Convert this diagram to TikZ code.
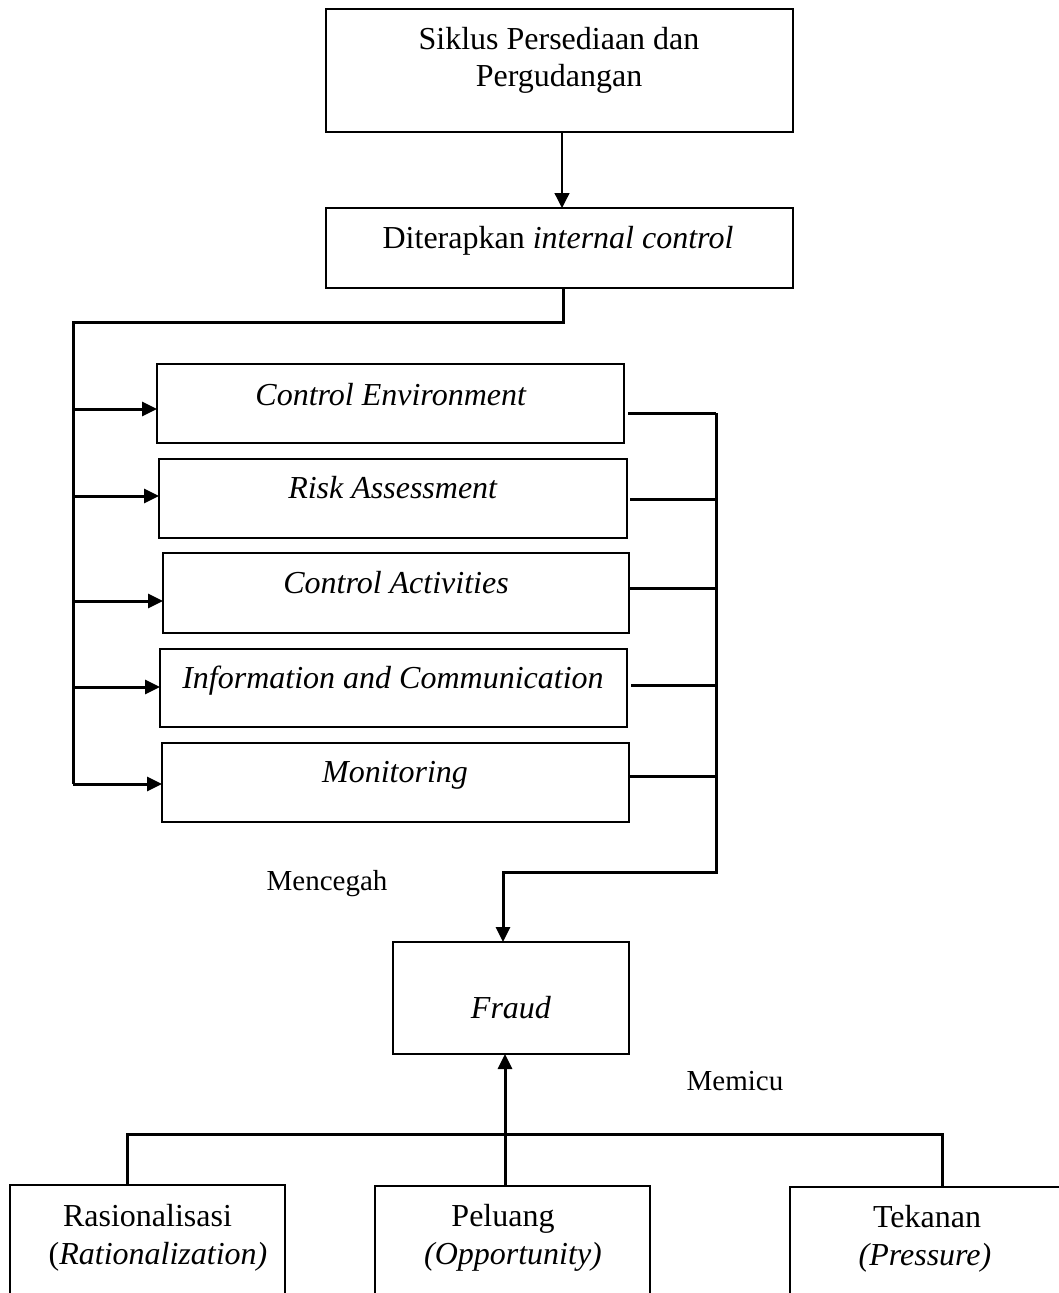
\documentclass[tikz,border=0pt]{standalone}
\usepackage{fontspec}
\setmainfont{Liberation Serif}
\usetikzlibrary{arrows.meta,calc}
\begin{document}
\begin{tikzpicture}[x=1pt,y=-1pt,
  box/.style={draw, line width=1.2pt, inner sep=0pt, outer sep=0pt, anchor=north west},
  txt/.style={anchor=base, inner sep=0pt, font=\fontsize{32}{37}\selectfont},
  lbl/.style={anchor=base, inner sep=0pt, font=\fontsize{29}{34}\selectfont},
  conn/.style={line width=3pt},
  arr/.style={line width=3pt, -{Triangle[length=15pt,width=14pt]}},
  thinarr/.style={line width=1.3pt, -{Triangle[length=15pt,width=15pt]}}]
\useasboundingbox (0,0) rectangle (1058,1293);

% boxes
\node[box, minimum width=467pt, minimum height=123pt] (top) at (326,9) {};
\node[box, minimum width=467pt, minimum height=80pt] (dit) at (326,208) {};
\node[box, minimum width=467pt, minimum height=79pt] (ce) at (157,364) {};
\node[box, minimum width=468pt, minimum height=79pt] (ra) at (159,459) {};
\node[box, minimum width=466pt, minimum height=80pt] (ca) at (163,553) {};
\node[box, minimum width=467pt, minimum height=78pt] (ic) at (160,649) {};
\node[box, minimum width=467pt, minimum height=79pt] (mon) at (162,743) {};
\node[box, minimum width=236pt, minimum height=112pt] (fraud) at (393,942) {};
\node[box, minimum width=275pt, minimum height=130pt] (rasio) at (10,1185) {};
\node[box, minimum width=275pt, minimum height=130pt] (pel) at (375,1186) {};
\node[box, minimum width=280pt, minimum height=130pt] (tek) at (790,1187) {};

% texts
\node[txt] (t1a) at (559,49) {Siklus Persediaan dan};
\node[txt] (t1b) at (559,86) {Pergudangan};
\node[txt] (t2) at (558,248) {Diterapkan \textit{internal control}};
\node[txt] (t3) at (391,405) {\textit{Control Environment}};
\node[txt] (t4) at (393,498) {\textit{Risk Assessment}};
\node[txt] (t5) at (396,593) {\textit{Control Activities}};
\node[txt] (t6) at (393,688) {\textit{Information and Communication}};
\node[txt] (t7) at (395,782) {\textit{Monitoring}};
\node[lbl] (lmen) at (327,890) {Mencegah};
\node[txt] (t8) at (511,1018) {\textit{Fraud}};
\node[lbl] (lmem) at (735,1090) {Memicu};
\node[txt] (t9a) at (147.5,1226) {Rasionalisasi};
\node[txt] (t9b) at (158,1264) {(\textit{Rationalization)}};
\node[txt] (t10a) at (503,1226) {Peluang};
\node[txt] (t10b) at (513,1264) {\textit{(Opportunity)}};
\node[txt] (t11a) at (927,1227) {Tekanan};
\node[txt] (t11b) at (925,1265) {\textit{(Pressure)}};

% top arrow
\coordinate (c1) at (562,0);
\draw[thinarr] (c1 |- top.south) -- (c1 |- dit.north);

% left bus
\coordinate (j1) at (563,322);
\coordinate (lb) at (73,322);
\coordinate (le) at (73,784);
\draw[conn] (j1 |- dit.south) -- (j1) -- (lb) -- (le);
\coordinate (a1) at (73,409);
\coordinate (a2) at (73,496);
\coordinate (a3) at (73,601);
\coordinate (a4) at (73,687);
\coordinate (a5) at (73,784);
\draw[arr] (a1) -- (a1 -| ce.west);
\draw[arr] (a2) -- (a2 -| ra.west);
\draw[arr] (a3) -- (a3 -| ca.west);
\draw[arr] (a4) -- (a4 -| ic.west);
\draw[arr] (a5) -- (a5 -| mon.west);

% right bus
\coordinate (r1) at (716,413);
\coordinate (r2) at (716,499);
\coordinate (r3) at (716,588);
\coordinate (r4) at (716,685);
\coordinate (r5) at (716,776);
\coordinate (rb) at (716,872);
\coordinate (rc) at (503,872);
\draw[conn] ($(r1 -| ce.east)+(4,0)$) -- (r1);
\draw[conn] ($(r2 -| ra.east)+(3,0)$) -- (r2);
\draw[conn] (r3 -| ca.east) -- (r3);
\draw[conn] ($(r4 -| ic.east)+(4,0)$) -- (r4);
\draw[conn] (r5 -| mon.east) -- (r5);
\draw[arr] (r1) -- (rb) -- (rc) -- (rc |- fraud.north);

% bottom
\coordinate (m) at (505,1134);
\coordinate (hl) at (127,1134);
\coordinate (hr) at (942,1134);
\draw[arr] (m |- pel.north) -- (m |- fraud.south);
\draw[conn] (hl |- rasio.north) -- (hl) -- (hr) -- (hr |- tek.north);
\end{tikzpicture}
\end{document}
